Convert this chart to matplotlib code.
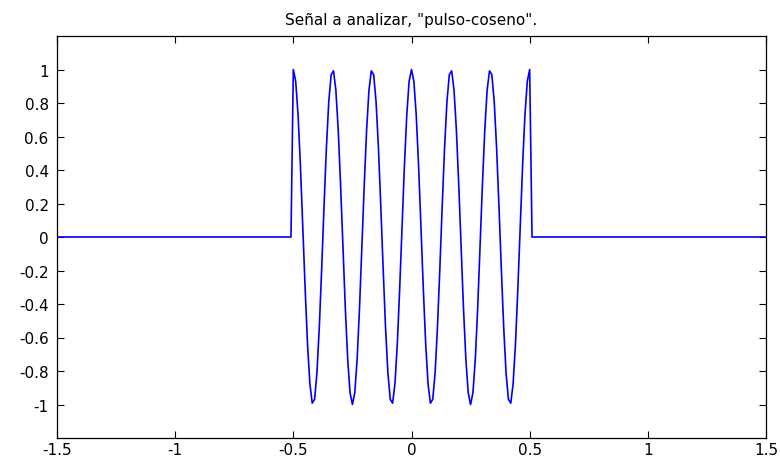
import numpy as np
import matplotlib
matplotlib.use("Agg")
import matplotlib.pyplot as plt

# parámetros de la señal "pulso-coseno"
t_inicio, t_fin, paso = -1.5, 1.5, 0.01
frecuencia = 6.0          # Hz (7 picos dentro del pulso)
ancho_pulso = 1.0         # pulso entre -0.5 y 0.5

x_ticks = [-1.5, -1, -0.5, 0, 0.5, 1, 1.5]
x_labels = ["-1.5", "-1", "-0.5", "0", "0.5", "1", "1.5"]
y_ticks = [-1, -0.8, -0.6, -0.4, -0.2, 0, 0.2, 0.4, 0.6, 0.8, 1]
y_labels = ["-1", "-0.8", "-0.6", "-0.4", "-0.2", "0", "0.2", "0.4", "0.6", "0.8", "1"]

t = np.round(np.arange(t_inicio, t_fin + paso / 2, paso), 10)
x = np.cos(2 * np.pi * frecuencia * t) * (np.abs(t) <= ancho_pulso / 2)

plt.rcParams["font.family"] = ["DejaVu Sans"]

fig = plt.figure(figsize=(7.8, 4.6), dpi=100)
ax = fig.add_axes([57 / 780, 1 - 439 / 460, (766 - 57) / 780, (439 - 37) / 460])
ax.plot(t, x, color=(0, 0, 1), linewidth=1.2)

ax.set_xlim(-1.5, 1.5)
ax.set_ylim(-1.2, 1.2)
ax.set_xticks(x_ticks)
ax.set_xticklabels(x_labels)
ax.set_yticks(y_ticks)
ax.set_yticklabels(y_labels)
ax.tick_params(direction="in", top=True, right=True, length=5, width=0.8,
               labelsize=11, colors="black")
ax.tick_params(axis="y", pad=6)
ax.tick_params(axis="x", pad=3)
for s in ax.spines.values():
    s.set_linewidth(0.9)
ax.set_title('Señal a analizar, "pulso-coseno".', fontsize=11, pad=9)

fig.savefig("out.png", dpi=100)
